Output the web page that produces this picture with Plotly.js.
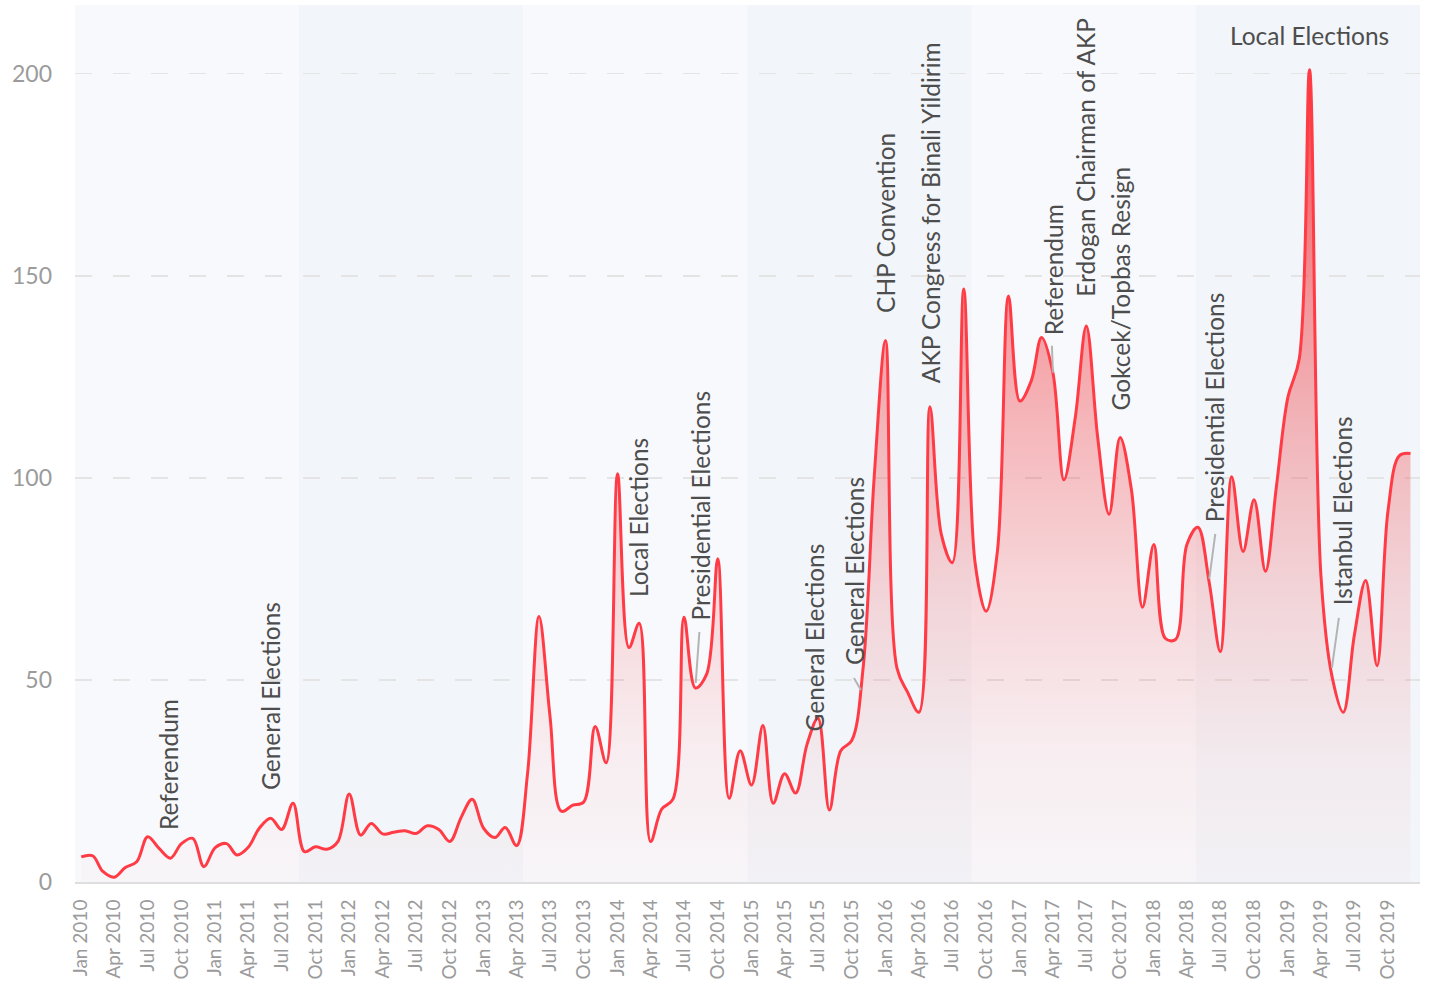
<!DOCTYPE html>
<html>
<head>
<meta charset="utf-8">
<script src="https://cdn.plot.ly/plotly-3.0.1.min.js"></script>
<style>
  html, body { margin: 0; padding: 0; background: #ffffff; }
  #chart { width: 1430px; height: 990px; }
</style>
</head>
<body>
<div id="chart"></div>
<script>
// ---- data (monthly values) ----
const years = [2010, 2011, 2012, 2013, 2014, 2015, 2016, 2017, 2018, 2019];
const v2010 = [6.2, 6.5, 2.6, 1.2, 3.6, 5, 11.2, 8.3, 5.9, 9.5, 10.8, 3.8];
const v2011 = [8.5, 9.5, 6.7, 8.6, 13.3, 15.8, 13, 19.5, 7.5, 8.7, 8.1, 10];
const v2012 = [21.8, 11.6, 14.5, 11.9, 12.3, 12.7, 12, 13.9, 13, 10, 16, 20.5];
const v2013 = [13.3, 11, 13.5, 9, 27, 65.7, 41, 17.5, 19, 19.8, 38.5, 29.5];
const v2014 = [101, 58, 64, 10, 18, 20.5, 65.5, 48, 51.5, 80, 20.7, 32.5];
const v2015 = [24, 38.7, 19.5, 26.8, 22, 34, 40.5, 17.8, 32.5, 35, 53, 100];
const v2016 = [134, 53, 47, 42, 117.6, 86, 79, 146.7, 79, 67, 82, 145];
const v2017 = [119, 124, 134.7, 126, 99.5, 115, 137.6, 110, 91, 110, 97, 68];
const v2018 = [83.5, 60.3, 60, 83.5, 87.8, 74, 57, 100.3, 81.8, 94.6, 76.9, 98];
const v2019 = [119.9, 129.4, 201, 76, 51, 42, 61, 74.6, 53.5, 92, 105.5, 106];

const yTickVals = [0, 50, 100, 150, 200];

// ---- event annotations ----
const eventLabels = ['Referendum', 'General Elections', 'Local Elections', 'Presidential Elections',
  'General Elections', 'General Elections', 'CHP Convention', 'AKP Congress for Binali Yildirim',
  'Referendum', 'Erdogan Chairman of AKP', 'Gokcek/Topbas Resign', 'Presidential Elections',
  'Local Elections', 'Istanbul Elections'];
const eventDates = ['2010-09-01', '2011-06-01', '2014-03-01', '2014-08-01', '2015-06-01', '2015-10-26',
  '2016-01-01', '2016-05-01', '2017-04-01', '2017-07-01', '2017-10-01', '2018-06-01',
  '2019-03-01', '2019-05-01'];
const eventValues = [5.9, 15.5, 64, 48, 34, 47.5, 134, 117.6, 126, 137.6, 110, 75, 201, 53];

// ---- styles (pixel offsets of text; optional leader line start) ----
const eventStyle = [
  {xshift: -2, yshift: 28},
  {xshift: 0, yshift: 29},
  {xshift: 0, yshift: 26},
  {xshift: 5, yshift: 68, lead: {ax: 4, ay: -56, so: 5}},
  {xshift: 8, yshift: 13},
  {xshift: -7, yshift: 25, lead: {ax: -7, ay: -12, so: 0}},
  {xshift: 0, yshift: 27},
  {xshift: 0, yshift: 24},
  {xshift: 0, yshift: 38, lead: {ax: -1, ay: -27, so: 0}},
  {xshift: -1, yshift: 29},
  {xshift: 0, yshift: 27},
  {xshift: 6, yshift: 57, lead: {ax: 6, ay: -45, so: 0}},
  {horizontal: true, xshift: 0, yshift: 34},
  {xshift: 10, yshift: 63, lead: {ax: 7, ay: -50, so: 0}}
];

const FONT = 'Lato, "Open Sans", sans-serif';
const LINE_COLOR = '#ff3b46';
const BAND_LIGHT = '#f8f9fc';
const BAND_DARK = '#f2f5f9';

const values = [].concat(v2010, v2011, v2012, v2013, v2014, v2015, v2016, v2017, v2018, v2019);
const dates = [];
years.forEach(function (y) {
  for (let m = 1; m <= 12; m++) dates.push(y + '-' + String(m).padStart(2, '0') + '-01');
});

const trace = {
  type: 'scatter',
  mode: 'lines',
  x: dates,
  y: values,
  line: {shape: 'spline', smoothing: 1, color: LINE_COLOR, width: 3},
  fill: 'tozeroy',
  fillgradient: {
    type: 'vertical',
    start: 0,
    stop: 205,
    colorscale: [
      [0, 'rgba(240,60,65,0.02)'],
      [0.15, 'rgba(240,60,65,0.06)'],
      [0.35, 'rgba(240,60,65,0.18)'],
      [0.55, 'rgba(240,55,60,0.34)'],
      [0.7, 'rgba(240,50,55,0.48)'],
      [0.85, 'rgba(245,40,45,0.68)'],
      [1, 'rgba(255,15,15,0.95)']
    ]
  },
  hoverinfo: 'skip',
  showlegend: false
};

const shapes = [];
for (let i = 0; i < 6; i++) {
  shapes.push({
    type: 'rect', xref: 'paper', yref: 'paper', layer: 'below',
    x0: i / 6, x1: (i + 1) / 6, y0: 0, y1: 1,
    fillcolor: i % 2 === 0 ? BAND_LIGHT : BAND_DARK,
    line: {width: 0}
  });
}

const annotations = [];
eventLabels.forEach(function (txt, i) {
  const s = eventStyle[i];
  annotations.push({
    text: txt,
    x: eventDates[i],
    y: eventValues[i],
    xref: 'x', yref: 'y',
    showarrow: false,
    font: {family: FONT, size: 24.5, color: '#4d4d4d'},
    textangle: s.horizontal ? 0 : -90,
    xanchor: 'center',
    yanchor: s.horizontal ? 'middle' : 'bottom',
    xshift: s.xshift,
    yshift: s.yshift,
    borderpad: 0,
    borderwidth: 0
  });
  if (s.lead) {
    annotations.push({
      text: ' ',
      x: eventDates[i],
      y: eventValues[i],
      xref: 'x', yref: 'y',
      showarrow: true,
      ax: s.lead.ax, ay: s.lead.ay,
      arrowhead: 0,
      arrowwidth: 2,
      arrowcolor: '#b4b4b4',
      standoff: s.lead.so,
      font: {family: FONT, size: 1, color: 'rgba(0,0,0,0)'},
      borderpad: 0,
      borderwidth: 0
    });
  }
});

const layout = {
  width: 1430,
  height: 990,
  margin: {l: 75, r: 10, t: 5, b: 108},
  paper_bgcolor: '#ffffff',
  plot_bgcolor: BAND_LIGHT,
  font: {family: FONT, color: '#9b9b9b'},
  showlegend: false,
  xaxis: {
    type: 'date',
    range: ['2009-12-15', '2019-12-27'],
    tickmode: 'linear',
    tick0: '2010-01-01',
    dtick: 'M3',
    tickformat: '%b %Y',
    tickangle: -90,
    ticks: '',
    ticklabelstandoff: 8,
    tickfont: {family: FONT, size: 19, color: '#9b9b9b'},
    showgrid: false,
    zeroline: false,
    showline: true,
    linecolor: '#dedede',
    linewidth: 2,
    fixedrange: true
  },
  yaxis: {
    range: [0, 217],
    tickmode: 'array',
    tickvals: yTickVals,
    ticktext: yTickVals.map(String),
    ticks: '',
    ticklabelstandoff: 22,
    tickfont: {family: FONT, size: 23, color: '#9b9b9b'},
    showgrid: true,
    gridcolor: '#e4e4e4',
    gridwidth: 1.5,
    griddash: '17px,21px',
    zeroline: false,
    showline: false,
    fixedrange: true
  },
  shapes: shapes,
  annotations: annotations
};

Plotly.newPlot('chart', [trace], layout, {staticPlot: true, displayModeBar: false, responsive: false});
</script>
</body>
</html>
